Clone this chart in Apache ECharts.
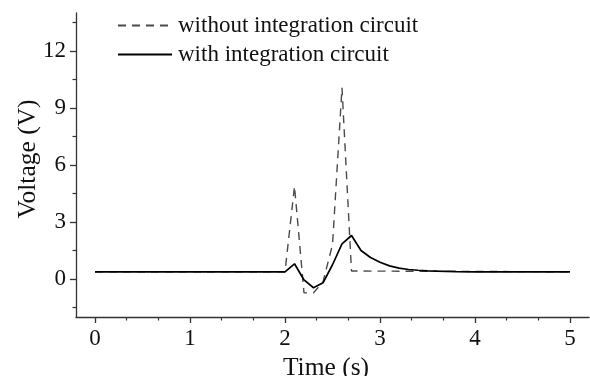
<!DOCTYPE html>
<html>
<head>
<meta charset="utf-8">
<script src="https://cdn.jsdelivr.net/npm/echarts@6/dist/echarts.min.js"></script>
<style>html,body{margin:0;padding:0;background:#fff;}#c{width:590px;height:376px;}</style>
</head>
<body>
<div id="c"></div>
<script>
// Data
var seriesNames = ['without integration circuit', 'with integration circuit'];
var timeWithout = [0, 2.0, 2.1, 2.2, 2.3, 2.4, 2.5, 2.6, 2.7, 5.0];
var voltWithout = [0.38, 0.38, 4.88, -0.73, -0.73, -0.15, 1.8, 10.06, 0.42, 0.38];
var timeWith = [0, 2.0, 2.1, 2.2, 2.3, 2.4, 2.5, 2.6, 2.7, 2.8, 2.9, 3.0, 3.1, 3.2, 3.3, 3.4, 3.5, 3.6, 3.8, 4.0, 5.0];
var voltWith = [0.38, 0.38, 0.8, -0.05, -0.46, -0.2, 0.75, 1.85, 2.29, 1.5, 1.13, 0.88, 0.69, 0.57, 0.5, 0.46, 0.43, 0.41, 0.39, 0.38, 0.37];
var xMajorTicks = [0, 1, 2, 3, 4, 5];
var xMinorTicks = [1/3, 2/3, 4/3, 5/3, 7/3, 8/3, 10/3, 11/3, 13/3, 14/3];
var yMajorTicks = [0, 3, 6, 9, 12];
var yMinorTicks = [-1.5, 1.5, 4.5, 7.5, 10.5, 13.5];

function pairs(xs, ys) { return xs.map(function (x, i) { return [x, ys[i]]; }); }

var FONT = 'Liberation Serif';
var axisColor = '#333';
var chart = echarts.init(document.getElementById('c'), null, { renderer: 'canvas' });
chart.setOption({
  animation: false,
  backgroundColor: '#fff',
  grid: { left: 76, right: 1, top: 13, bottom: 59, containLabel: false, outerBoundsMode: 'none' },
  legend: {
    orient: 'vertical', left: 117, top: 14, padding: 0, itemWidth: 54, itemHeight: 14, itemGap: 6,
    data: seriesNames,
    itemStyle: { opacity: 0 },
    textStyle: { fontFamily: FONT, fontSize: 23, color: '#111', padding: [0, 0, 0, 1] }
  },
  xAxis: [{
    type: 'value', min: -0.2, max: 5.2,
    name: 'Time (s)', nameLocation: 'middle', nameGap: 37,
    nameTextStyle: { fontFamily: FONT, fontSize: 25.5, color: '#111', padding: [0, 13, 0, 0] },
    axisLine: { show: true, onZero: false, lineStyle: { color: axisColor, width: 1.3 } },
    axisTick: { show: true, customValues: xMajorTicks, length: 6, inside: false, lineStyle: { color: axisColor, width: 1.3 } },
    axisLabel: { customValues: xMajorTicks, fontFamily: FONT, fontSize: 23, color: '#111', margin: 10 },
    splitLine: { show: false }
  }, {
    type: 'value', min: -0.2, max: 5.2, position: 'bottom',
    axisLine: { show: false, onZero: false },
    axisTick: { show: true, customValues: xMinorTicks, length: 3.5, lineStyle: { color: axisColor, width: 1.2 } },
    axisLabel: { show: false },
    splitLine: { show: false }
  }],
  yAxis: [{
    type: 'value', min: -2, max: 14,
    name: 'Voltage (V)', nameLocation: 'middle', nameGap: 35, nameMoveOverlap: false,
    nameTextStyle: { fontFamily: FONT, fontSize: 25.5, color: '#111', padding: [0, 0, 0, 12] },
    axisLine: { show: true, onZero: false, lineStyle: { color: axisColor, width: 1.3 } },
    axisTick: { show: true, customValues: yMajorTicks, length: 6, lineStyle: { color: axisColor, width: 1.3 } },
    axisLabel: { customValues: yMajorTicks, fontFamily: FONT, fontSize: 23, color: '#111', margin: 10 },
    splitLine: { show: false }
  }, {
    type: 'value', min: -2, max: 14, position: 'left',
    axisLine: { show: false, onZero: false },
    axisTick: { show: true, customValues: yMinorTicks, length: 3.5, lineStyle: { color: axisColor, width: 1.2 } },
    axisLabel: { show: false },
    splitLine: { show: false }
  }],
  series: [{
    name: seriesNames[0], type: 'line', xAxisIndex: 0, yAxisIndex: 0,
    data: pairs(timeWithout, voltWithout), showSymbol: false, symbol: 'none',
    lineStyle: { color: '#4a4a4a', width: 1.4, type: [8, 6] }, itemStyle: { color: '#4a4a4a' }, z: 3
  }, {
    name: seriesNames[1], type: 'line', xAxisIndex: 0, yAxisIndex: 0,
    data: pairs(timeWith, voltWith), showSymbol: false, symbol: 'none',
    lineStyle: { color: '#000', width: 1.7 }, itemStyle: { color: '#000' }, z: 4
  }]
});
</script>
</body>
</html>
